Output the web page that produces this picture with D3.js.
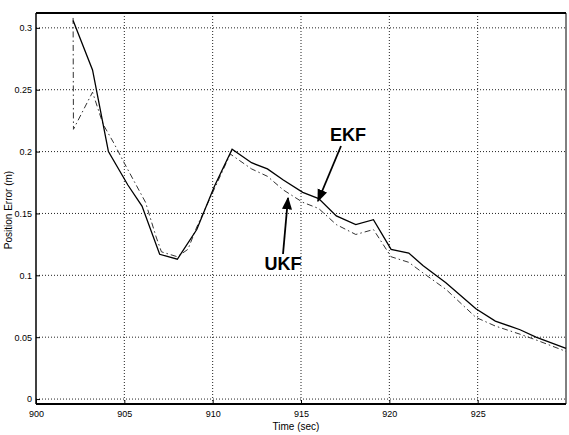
<!DOCTYPE html>
<html>
<head>
<meta charset="utf-8">
<script src="https://cdn.jsdelivr.net/npm/d3@7"></script>
<style>
  body { margin: 0; background: #fff; }
  svg text { font-family: "Liberation Sans Narrow", "Arial Narrow", "Liberation Sans", sans-serif; }
</style>
</head>
<body>
<div id="canvas"></div>
<script>
// chart values
const xTicks = [900, 905, 910, 915, 920, 925];
const yTicks = [0, 0.05, 0.1, 0.15, 0.2, 0.25, 0.3];

const ekfTime = [902.1, 903.2, 904.1, 905.2, 906.0, 907.0, 908.0, 909.1, 910.1, 911.1, 912.2, 913.1, 914.0, 915.1, 916.0, 917.0, 918.1, 919.1, 920.1, 921.1, 921.9, 923.2, 924.9, 926.0, 927.4, 928.3, 930.0];
const ekfErr  = [0.306, 0.266, 0.200, 0.173, 0.156, 0.117, 0.113, 0.137, 0.172, 0.202, 0.191, 0.186, 0.177, 0.167, 0.162, 0.148, 0.141, 0.145, 0.121, 0.118, 0.108, 0.094, 0.073, 0.063, 0.056, 0.050, 0.041];

const ukfTime = [902.1, 902.12, 903.2, 903.8, 904.4, 905.1, 906.2, 906.8, 907.1, 908.0, 908.6, 909.1, 910.1, 911.0, 912.2, 913.1, 914.0, 915.1, 916.0, 917.0, 918.1, 919.1, 920.1, 921.1, 921.9, 923.2, 924.9, 926.0, 927.4, 928.3, 930.0];
const ukfErr  = [0.308, 0.218, 0.248, 0.222, 0.207, 0.188, 0.159, 0.131, 0.119, 0.115, 0.121, 0.139, 0.170, 0.198, 0.186, 0.180, 0.169, 0.159, 0.154, 0.141, 0.133, 0.137, 0.115, 0.1105, 0.102, 0.0887, 0.066, 0.059, 0.0524, 0.0478, 0.0385];

const W = 569, H = 435;
const pLeft = 36, pRight = 566, pTop = 13, pBottom = 404;

const svg = d3.select('#canvas').append('svg')
  .attr('width', W)
  .attr('height', H);

const x = d3.scaleLinear().domain([900, 930]).range([pLeft, pRight]);
const y = d3.scaleLinear().domain([-0.004, 0.312]).range([pBottom, pTop]);

// dotted grid
const grid = svg.append('g')
  .attr('stroke', '#222')
  .attr('stroke-width', 1)
  .attr('stroke-dasharray', '1,2');

grid.selectAll('line.vx')
  .data(xTicks.slice(1))
  .enter().append('line')
  .attr('x1', d => x(d)).attr('x2', d => x(d))
  .attr('y1', pTop).attr('y2', pBottom);

grid.selectAll('line.hy')
  .data(yTicks)
  .enter().append('line')
  .attr('y1', d => y(d)).attr('y2', d => y(d))
  .attr('x1', pLeft).attr('x2', pRight);

// axes
const xAxis = d3.axisBottom(x)
  .tickValues(xTicks)
  .tickSize(-4)
  .tickPadding(7)
  .tickFormat(d3.format('d'));

const yAxis = d3.axisLeft(y)
  .tickValues(yTicks)
  .tickSize(-4)
  .tickPadding(4)
  .tickFormat(d => String(+d.toFixed(2)));

svg.append('g')
  .attr('transform', `translate(0, ${pBottom})`)
  .call(xAxis)
  .call(g => g.select('.domain').remove())
  .selectAll('text')
  .attr('font-size', '9px')
  .attr('fill', '#000');

svg.append('g')
  .attr('transform', `translate(${pLeft}, 0)`)
  .call(yAxis)
  .call(g => g.select('.domain').remove())
  .selectAll('text')
  .attr('font-size', '9px')
  .attr('fill', '#000');

// frame
svg.append('line').attr('x1', pLeft).attr('x2', pRight).attr('y1', pTop).attr('y2', pTop)
  .attr('stroke', '#000').attr('stroke-width', 2);
svg.append('line').attr('x1', pLeft).attr('x2', pRight).attr('y1', pBottom).attr('y2', pBottom)
  .attr('stroke', '#000').attr('stroke-width', 2);
svg.append('line').attr('x1', pLeft).attr('x2', pLeft).attr('y1', pTop).attr('y2', pBottom)
  .attr('stroke', '#000').attr('stroke-width', 1.5);
svg.append('line').attr('x1', pRight).attr('x2', pRight).attr('y1', pTop).attr('y2', pBottom)
  .attr('stroke', '#000').attr('stroke-width', 1);

// series
const line = d3.line()
  .x(d => x(d[0]))
  .y(d => y(d[1]));

svg.append('path')
  .datum(d3.zip(ukfTime, ukfErr))
  .attr('d', line)
  .attr('fill', 'none')
  .attr('stroke', '#333')
  .attr('stroke-width', 1)
  .attr('stroke-dasharray', '6,3,1.5,3');

svg.append('path')
  .datum(d3.zip(ekfTime, ekfErr))
  .attr('d', line)
  .attr('fill', 'none')
  .attr('stroke', '#000')
  .attr('stroke-width', 1.3);

// axis titles
svg.append('text')
  .text('Time (sec)')
  .attr('x', 296)
  .attr('y', 430)
  .attr('text-anchor', 'middle')
  .attr('font-size', '10px');

svg.append('text')
  .text('Position Error (m)')
  .attr('transform', 'translate(12, 210) rotate(-90)')
  .attr('text-anchor', 'middle')
  .attr('font-size', '10px');

// annotations
svg.append('defs').append('marker')
  .attr('id', 'head')
  .attr('viewBox', '0 0 10 10')
  .attr('refX', 9).attr('refY', 5)
  .attr('markerWidth', 7).attr('markerHeight', 7)
  .attr('orient', 'auto')
  .append('path')
  .attr('d', 'M0,1 L10,5 L0,9 z')
  .attr('fill', '#000');

svg.append('line')
  .attr('x1', 341).attr('y1', 146)
  .attr('x2', 318).attr('y2', 201)
  .attr('stroke', '#000').attr('stroke-width', 1.8)
  .attr('marker-end', 'url(#head)');

svg.append('line')
  .attr('x1', 283).attr('y1', 254)
  .attr('x2', 288).attr('y2', 198)
  .attr('stroke', '#000').attr('stroke-width', 1.8)
  .attr('marker-end', 'url(#head)');

svg.append('text')
  .text('EKF')
  .attr('x', 348).attr('y', 141)
  .attr('text-anchor', 'middle')
  .attr('font-family', 'Liberation Sans, Arial, sans-serif')
  .attr('font-weight', 'bold')
  .attr('font-size', '18px');

svg.append('text')
  .text('UKF')
  .attr('x', 283).attr('y', 270)
  .attr('text-anchor', 'middle')
  .attr('font-family', 'Liberation Sans, Arial, sans-serif')
  .attr('font-weight', 'bold')
  .attr('font-size', '18px');
</script>
</body>
</html>
